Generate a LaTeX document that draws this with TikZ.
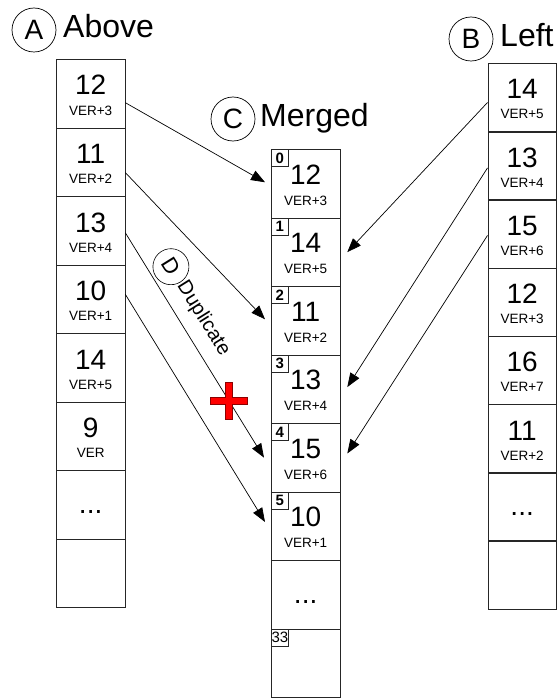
\documentclass[tikz,border=0pt]{standalone}
\usepackage{fontspec}
\setmainfont{Liberation Sans}
\usetikzlibrary{arrows.meta,calc}
\begin{document}
\begin{tikzpicture}[x=1pt,y=-1pt,
  cell/.style={draw=black!85, line width=0.8pt, minimum width=68.5pt, minimum height=68.5pt, inner sep=0pt, anchor=north west},
  numtxt/.style={font=\fontsize{28}{30}\selectfont, anchor=base, inner sep=0pt},
  vertxt/.style={font=\fontsize{13.5}{15}\selectfont, anchor=base, inner sep=0pt},
  idx/.style={draw=black!85, line width=0.7pt, minimum width=17pt, minimum height=17pt, inner sep=0pt, anchor=north west, font=\fontsize{15}{15}\selectfont},
  lblcirc/.style={draw, circle, minimum size=44pt, inner sep=0pt, line width=0.7pt, font=\fontsize{28}{30}\selectfont},
  ttl/.style={font=\fontsize{32}{34}\selectfont, anchor=base west, inner sep=0pt},
  dcirc/.style={draw, circle, minimum size=36pt, inner sep=0pt, line width=0.6pt, font=\fontsize{22}{24}\selectfont},
  dtxt/.style={font=\fontsize{20}{22}\selectfont, inner sep=1pt},
  arr/.style={-{Triangle[length=14pt,width=10.5pt]}, line width=0.7pt},
  crossmark/.style={fill=red, draw=red!55!black, line width=0.6pt}
]
\useasboundingbox (0,0) rectangle (558,698);

% titles
\node[lblcirc] (ca) at (34,30) {A};
\node[ttl] (ta) at (63,38) {Above};
\node[lblcirc] (cc) at (233,119) {C};
\node[ttl] (tc) at (260,126) {Merged};
\node[lblcirc] (cb) at (471,39) {B};
\node[ttl] (tb) at (500,47) {Left};

% Above column
\foreach \n/\v [count=\i from 0] in {12/VER+3, 11/VER+2, 13/VER+4, 10/VER+1, 14/VER+5, 9/VER} {
  \node[cell] (a\i) at (56, 59+\i*68.5) {};
  \node[numtxt] (an\i) at ($(a\i.north)+(0,36)$) {\n};
  \node[vertxt] (av\i) at ($(a\i.north)+(0,56)$) {\v};
}
\node[cell] (a6) at (56, 59+6*68.5) {};
\node[numtxt] (adots) at ($(a6.center)+(0,9)$) {...};
\node[cell] (a7) at (56, 59+7*68.5) {};

% Merged column
\foreach \n/\v [count=\i from 0] in {12/VER+3, 14/VER+5, 11/VER+2, 13/VER+4, 15/VER+6, 10/VER+1} {
  \node[cell] (m\i) at (271, 149+\i*68.5) {};
  \node[numtxt] (mn\i) at ($(m\i.north)+(0,35)$) {\n};
  \node[vertxt] (mv\i) at ($(m\i.north)+(0,56)$) {\v};
  \node[idx] (mi\i) at (m\i.north west) {\bfseries\i};
}
\node[cell] (m6) at (271, 149+6*68.5) {};
\node[numtxt] (mdots) at ($(m6.center)+(0,9)$) {...};
\node[cell] (m7) at (271, 149+7*68.5) {};
\node[idx] (mi7) at (m7.north west) {33};

% Left column
\foreach \n/\v [count=\i from 0] in {14/VER+5, 13/VER+4, 15/VER+6, 12/VER+3, 16/VER+7, 11/VER+2} {
  \node[cell] (b\i) at (487.5, 63+\i*68.2) {};
  \node[numtxt] (bn\i) at ($(b\i.north)+(0,36)$) {\n};
  \node[vertxt] (bv\i) at ($(b\i.north)+(0,56)$) {\v};
}
\node[cell] (b6) at (487.5, 63+6*68.2) {};
\node[numtxt] (bdots) at ($(b6.center)+(0,9)$) {...};
\node[cell] (b7) at (487.5, 63+7*68.2) {};

% connectors from Above
\draw[arr] ($(a0.north east)!0.63!(a0.south east)$) -- ($(m0.north west)!0.48!(m0.south west)+(-6,0)$);
\draw[arr] ($(a1.north east)!0.65!(a1.south east)$) -- ($(m2.north west)!0.48!(m2.south west)+(-6,0)$);
\coordinate (ds) at ($(a2.north east)!0.53!(a2.south east)$);
\coordinate (de) at ($(m4.north west)!0.5!(m4.south west)+(-7,0)$);
\draw[arr] (ds) -- (de);
\draw[arr] ($(a3.north east)!0.43!(a3.south east)$) -- ($(m5.north west)!0.44!(m5.south west)+(-6,0)$);

% connectors from Left
\draw[arr] ($(b0.north west)!0.57!(b0.south west)$) -- ($(m1.north east)!0.5!(m1.south east)+(7,0)$);
\draw[arr] ($(b1.north west)!0.53!(b1.south west)$) -- ($(m3.north east)!0.47!(m3.south east)+(7,0)$);
\draw[arr] ($(b2.north west)!0.52!(b2.south west)$) -- ($(m4.north east)!0.44!(m4.south east)+(7,0)$);

% duplicate label
\coordinate (dm) at ($(ds)!0.2!(de)$);
\node[dcirc, rotate=-58] (dlab) at ($(dm)!21pt!90:(de)$) {D};
\node[dtxt, rotate=-58, anchor=west] (dword) at (dlab.east) {Duplicate};

% red cross
\coordinate (xc) at ($(ds)!0.747!(de)$);
\filldraw[crossmark] (xc) ++(-18.5,-3.5) -- ++(15,0) -- ++(0,-15) -- ++(7,0) -- ++(0,15) -- ++(15,0) -- ++(0,7) -- ++(-15,0) -- ++(0,15) -- ++(-7,0) -- ++(0,-15) -- ++(-15,0) -- cycle;
\end{tikzpicture}
\end{document}
